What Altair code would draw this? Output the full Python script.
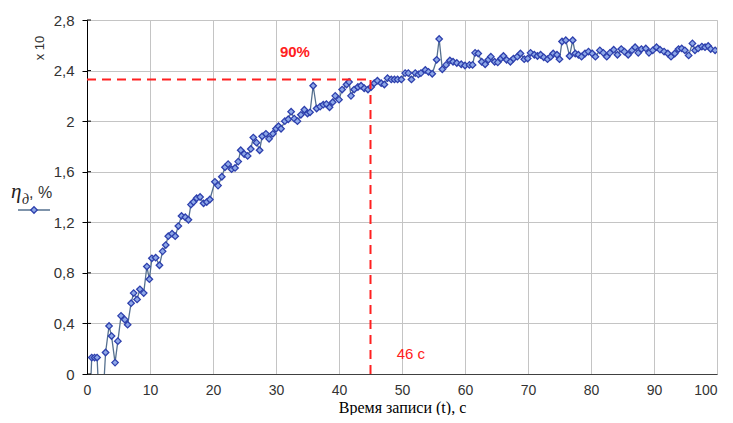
import altair as alt
import pandas as pd

# ---- data ----
times = [0.25, 0.75, 1.2, 1.6, 2.2, 2.95, 3.5, 3.9, 4.45, 4.9, 5.4, 6.0, 6.45, 7.0, 7.4, 7.95,
         8.4, 9.0, 9.5, 9.9, 10.3, 10.9, 11.5, 12.0, 12.5, 12.9, 13.5, 14.0, 14.5, 15.0, 15.6,
         16.1, 16.5, 16.9, 17.4, 17.95, 18.5, 19.0, 19.5, 20.3, 20.8, 21.4, 21.9, 22.4, 22.95,
         23.5, 24.0, 24.4, 24.95, 25.5, 26.0, 26.4, 26.9, 27.4, 27.8, 28.4, 28.9, 29.5, 30.0,
         30.4, 30.8, 31.4, 31.95, 32.4, 32.9, 33.4, 33.95, 34.5, 35.0, 35.4, 35.9, 36.45, 37.0,
         37.5, 38.0, 38.5, 39.0, 39.4, 40.0, 40.5, 41.2, 41.6, 41.9, 42.4, 43.0, 43.5, 44.0,
         44.6, 45.1, 45.6, 46.1, 46.7, 47.2, 47.7, 48.3, 48.8, 49.3, 49.9, 50.5, 51.0, 51.5,
         52.1, 52.6, 53.0, 53.7, 54.2, 54.8, 55.5, 55.9, 56.4, 57.0, 57.6, 58.1, 58.7, 59.4,
         60.0, 60.7, 61.2, 61.6, 62.1, 62.65, 63.2, 63.7, 64.1, 64.7, 65.2, 65.7, 66.1, 66.6,
         67.2, 67.7, 68.3, 68.8, 69.4, 69.95, 70.4, 71.0, 71.5, 72.0, 72.5, 73.1, 73.6, 74.0,
         74.6, 75.0, 75.4, 76.0, 76.6, 77.1, 77.5, 78.0, 78.5, 79.05, 79.6, 80.2, 80.7, 81.4,
         81.95, 82.5, 83.0, 83.6, 84.2, 84.8, 85.3, 85.9, 86.5, 87.0, 87.5, 88.0, 88.7, 89.2,
         89.8, 90.4, 90.95, 91.6, 92.2, 92.7, 93.3, 93.9, 94.4, 94.9, 95.5, 96.1, 96.5, 97.0,
         97.6, 98.1, 98.6, 99.0, 99.7]
values = [-0.5, 0.13, 0.13, 0.13, -0.5, 0.17, 0.38, 0.30, 0.09, 0.26, 0.46, 0.43, 0.39, 0.56,
          0.64, 0.59, 0.67, 0.64, 0.85, 0.75, 0.915, 0.92, 0.86, 0.97, 1.02, 1.09, 1.11, 1.09,
          1.17, 1.25, 1.24, 1.22, 1.34, 1.36, 1.39, 1.40, 1.35, 1.36, 1.38, 1.52, 1.49, 1.56,
          1.635, 1.66, 1.62, 1.63, 1.68, 1.77, 1.74, 1.725, 1.78, 1.87, 1.83, 1.77, 1.88, 1.90,
          1.86, 1.90, 1.94, 1.96, 1.94, 2.00, 2.015, 2.075, 2.02, 2.00, 2.05, 2.09, 2.06, 2.07,
          2.28, 2.10, 2.115, 2.13, 2.135, 2.11, 2.15, 2.20, 2.17, 2.25, 2.29, 2.31, 2.20, 2.25,
          2.27, 2.28, 2.26, 2.25, 2.27, 2.30, 2.32, 2.30, 2.29, 2.34, 2.33, 2.33, 2.33, 2.33,
          2.38, 2.38, 2.33, 2.38, 2.37, 2.38, 2.405, 2.39, 2.375, 2.485, 2.65, 2.41, 2.445, 2.48,
          2.47, 2.46, 2.45, 2.44, 2.445, 2.445, 2.54, 2.535, 2.47, 2.45, 2.485, 2.51, 2.47,
          2.465, 2.495, 2.515, 2.485, 2.47, 2.495, 2.51, 2.535, 2.49, 2.495, 2.54, 2.525, 2.515,
          2.525, 2.505, 2.49, 2.51, 2.535, 2.525, 2.49, 2.63, 2.64, 2.515, 2.64, 2.535, 2.525,
          2.51, 2.535, 2.55, 2.535, 2.51, 2.56, 2.54, 2.51, 2.54, 2.565, 2.525, 2.57, 2.55,
          2.525, 2.56, 2.585, 2.54, 2.57, 2.575, 2.54, 2.56, 2.585, 2.565, 2.55, 2.535, 2.51,
          2.535, 2.57, 2.575, 2.56, 2.52, 2.615, 2.56, 2.575, 2.59, 2.585, 2.595, 2.57, 2.56]

x_ticks = [0, 10, 20, 30, 40, 50, 60, 70, 80, 90, 100]
y_ticks = [0, 0.4, 0.8, 1.2, 1.6, 2.0, 2.4, 2.8]

level_t = 45      # vertical red dashed line position
level_v = 2.33    # 90 % level
label_90 = "90%"
label_90_pos = (33, 2.55)
label_t = "46 с"
label_t_pos = (51.4, 0.16)

df = pd.DataFrame({"t": times, "v": values})

FONT = "Liberation Sans"
SERIF = "Liberation Serif"
RED = "#ff2020"

xenc = alt.X("t:Q", scale=alt.Scale(domain=[0, 100], nice=False, zero=False),
             axis=alt.Axis(values=x_ticks, title="Время записи (t), с", titleFont=SERIF,
                           titleFontSize=16, titleFontWeight="normal", titleColor="#000000",
                           titleBaseline="bottom", titleY=41,
                           labelFont=FONT, labelFontSize=14,
                           labelColor="#333333", labelPadding=9, tickSize=0,
                           domainColor="#404040", gridColor="#c4c4c4", gridWidth=1,
                           labelAlign={"expr": "datum.value == 100 ? 'right' : 'center'"}))
yenc = alt.Y("v:Q", scale=alt.Scale(domain=[0, 2.8], nice=False),
             axis=alt.Axis(values=y_ticks, title=None, labelFont=FONT, labelFontSize=15,
                           labelColor="#333333", labelPadding=8, tickSize=5,
                           tickColor="#000000", domainColor="#000000",
                           gridColor="#c4c4c4", gridWidth=1,
                           labelExpr="replace(format(datum.value, '.2~f'), '.', ',')"))

base = alt.Chart(df)
line = base.mark_line(color="#55708f", strokeWidth=1.3, clip=True).encode(x=xenc, y=yenc)
pts = base.mark_point(shape="diamond", size=42, fill="#8ea8e8", stroke="#2e40ad",
                      strokeWidth=1.3, fillOpacity=1, opacity=1, clip=True).encode(x=xenc, y=yenc)

ann = alt.Chart(pd.DataFrame({"a": [0]}))
hrule = ann.mark_rule(color=RED, strokeWidth=2, strokeDash=[9, 6]).encode(
    x=alt.datum(0), x2=alt.datum(level_t), y=alt.datum(level_v))
vrule = ann.mark_rule(color=RED, strokeWidth=2, strokeDash=[9, 6]).encode(
    x=alt.datum(level_t), y=alt.datum(0), y2=alt.datum(level_v))
t90 = ann.mark_text(text=label_90, color=RED, fontSize=15, fontWeight="bold", font=FONT).encode(
    x=alt.datum(label_90_pos[0]), y=alt.datum(label_90_pos[1]))
t46 = ann.mark_text(text=label_t, color=RED, fontSize=15, font=FONT).encode(
    x=alt.datum(label_t_pos[0]), y=alt.datum(label_t_pos[1]))

# inner halves of the crossing y ticks
ytk = alt.Chart(pd.DataFrame({"yt": y_ticks})).mark_rule(color="#000000", strokeWidth=1).encode(
    y=alt.Y("yt:Q"), x=alt.value(0), x2=alt.value(4))

# legend-like label on the left and the "x 10" multiplier
x10 = ann.mark_text(text="x 10", angle=270, fontSize=13, font=FONT, color="#333333").encode(
    x=alt.value(-47), y=alt.value(28))
eta = ann.mark_text(text="η", font=SERIF, fontStyle="italic", fontSize=21, align="left",
                    baseline="alphabetic", color="#222222").encode(x=alt.value(-76), y=alt.value(178))
sub = ann.mark_text(text="д", font=SERIF, fontStyle="italic", fontSize=14, align="left",
                    baseline="alphabetic", color="#222222").encode(x=alt.value(-65), y=alt.value(184))
pct = ann.mark_text(text=", %", font=FONT, fontSize=16, align="left",
                    baseline="alphabetic", color="#333333").encode(x=alt.value(-58), y=alt.value(178))
leg_line = ann.mark_rule(color="#55708f", strokeWidth=1.5).encode(
    x=alt.value(-69), x2=alt.value(-37), y=alt.value(190))
leg_pt = ann.mark_point(shape="diamond", size=42, fill="#8ea8e8", stroke="#2e40ad",
                        strokeWidth=1.3, fillOpacity=1, opacity=1).encode(
    x=alt.value(-53), y=alt.value(190))

chart = alt.layer(line, pts, hrule, vrule, t90, t46, ytk, x10, eta, sub, pct, leg_line, leg_pt).properties(
    width=630, height=354,
    padding={"left": 79, "top": 12, "right": 8, "bottom": 41},
    autosize=alt.AutoSizeParams(type="none"),
).configure_view(stroke="#c4c4c4", strokeWidth=1).configure(background="#ffffff")

chart.save("out.html", embed_options={"renderer": "svg", "actions": False})
